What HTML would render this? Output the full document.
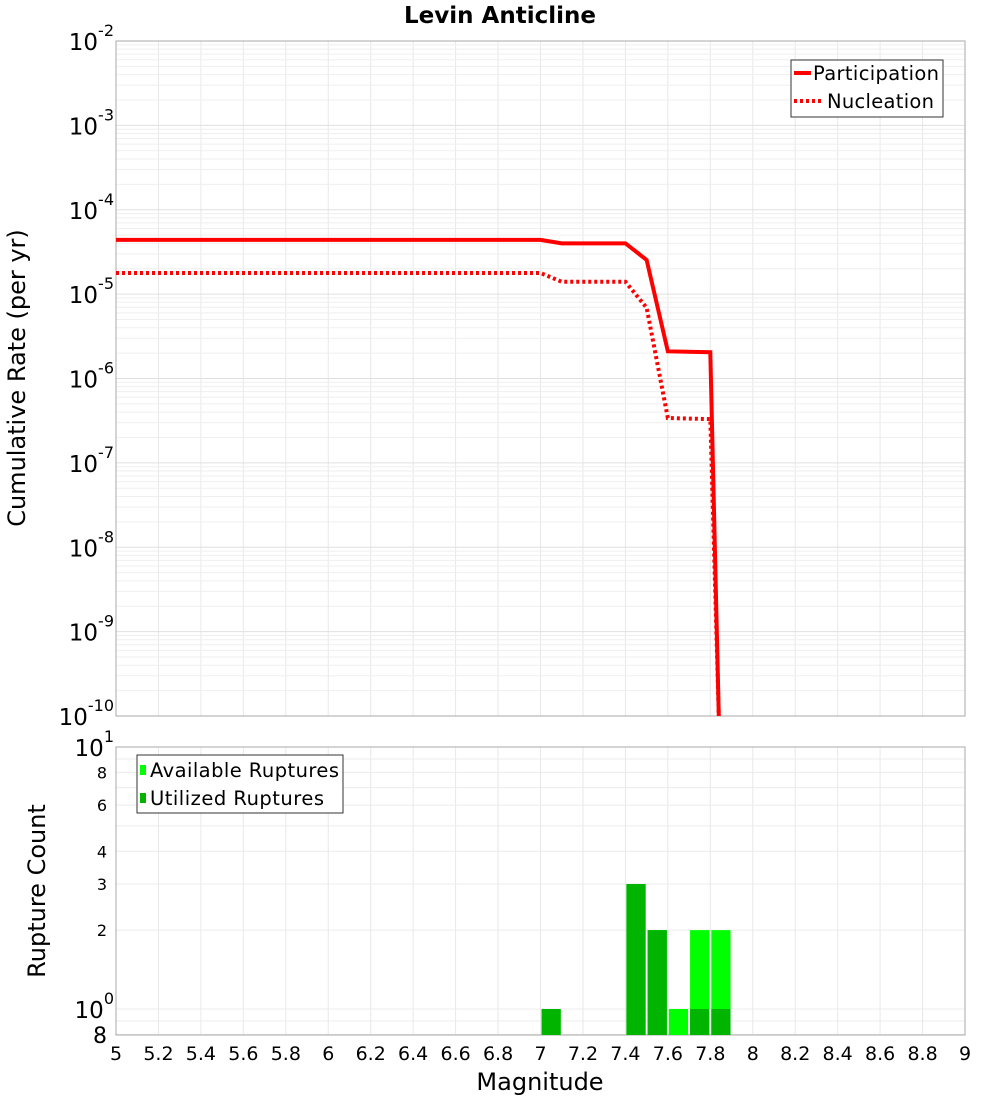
<!DOCTYPE html>
<html><head><meta charset="utf-8"><style>
body{margin:0;background:#fff;font-family:"Liberation Sans","DejaVu Sans",sans-serif}
</style></head><body>
<svg id="c" width="1000" height="1100" xmlns="http://www.w3.org/2000/svg" font-family="DejaVu Sans, Liberation Sans, sans-serif"></svg>
<script>
const mags=[5,7.0,7.1,7.4,7.5,7.6,7.8,7.84];
const partic=[4.39e-5,4.39e-5,4.0e-5,4.0e-5,2.54e-5,2.1e-6,2.05e-6,1e-10];
const nucl=[1.78e-5,1.78e-5,1.4e-5,1.4e-5,6.9e-6,3.4e-7,3.3e-7,1e-10];
const binMags=[7.05,7.45,7.55,7.65,7.75,7.85];
const availCounts=[1,3,2,1,2,2];
const usedCounts=[1,3,2,0,1,1];
const xTicks=["5","5.2","5.4","5.6","5.8","6","6.2","6.4","6.6","6.8","7","7.2","7.4","7.6","7.8","8","8.2","8.4","8.6","8.8","9"];
const topExps=[-2,-3,-4,-5,-6,-7,-8,-9,-10];
const botTicks=["8","6","4","3","2"];

const NS="http://www.w3.org/2000/svg",svg=document.getElementById('c');
function el(t,a,p){const e=document.createElementNS(NS,t);for(const k in a)e.setAttribute(k,a[k]);(p||svg).appendChild(e);return e;}
const L=116,R=965,T1=41,B1=716,T2=747,B2=1035;
const X=m=>L+(m-5)/4*(R-L);
const Y1=v=>T1+(-2-Math.log10(v))*(B1-T1)/8;
const Y2=v=>1009-Math.log10(v)*262;
const g=el('g',{});
for(let i=0;i<=20;i++){const x=X(5+i*0.2);el('line',{x1:x,x2:x,y1:T1,y2:B1,stroke:'#e8e8e8'},g);el('line',{x1:x,x2:x,y1:T2,y2:B2,stroke:'#e8e8e8'},g);}
for(let d=-10;d<-2;d++)for(let k=1;k<10;k++){const y=Y1(k*Math.pow(10,d));el('line',{x1:L,x2:R,y1:y,y2:y,stroke:k==1?'#e0e0e0':'#efefef'},g);}
[0.8,0.9,1,2,3,4,5,6,7,8,9,10].forEach(v=>{const y=Y2(v);if(y<=B2)el('line',{x1:L,x2:R,y1:y,y2:y,stroke:'#ececec'},g);});
let f=el('rect',{x:L,y:T1,width:R-L,height:B1-T1,fill:'none',stroke:'#aaa'});
f=el('rect',{x:L,y:T2,width:R-L,height:B2-T2,fill:'none',stroke:'#aaa'});
let t=el('text',{x:500,y:23,'text-anchor':'middle','font-size':23,'font-weight':'bold'});t.textContent='Levin Anticline';
topExps.forEach(e=>{const y=Y1(Math.pow(10,e));const tx=el('text',{x:114,y:y+9,'text-anchor':'end','font-size':23});tx.textContent='10';const s=el('tspan',{dy:-14,'font-size':16},tx);s.textContent=String(e);});
t=el('text',{x:25,y:378,'text-anchor':'middle','font-size':24,transform:'rotate(-90 25 378)'});t.textContent='Cumulative Rate (per yr)';
const cp=el('clipPath',{id:'cl'});el('rect',{x:L,y:T1,width:R-L,height:B1-T1+2},cp);
function line(vals,name,dash){const pts=mags.map((m,i)=>X(m)+','+Y1(vals[i])).join(' ');const p=el('polyline',{points:pts,fill:'none',stroke:'#ff0000','stroke-width':4,'clip-path':'url(#cl)'});if(dash)p.setAttribute('stroke-dasharray','3,3');}
line(partic,'participation-line',false);line(nucl,'nucleation-line',true);
const lg=el('g',{});
el('rect',{x:791,y:60,width:152,height:57,fill:'#fff',stroke:'#333'},lg);
el('line',{x1:794,x2:811,y1:73,y2:73,stroke:'red','stroke-width':4},lg);
el('line',{x1:794,x2:822,y1:101,y2:101,stroke:'red','stroke-width':4,'stroke-dasharray':'3,3'},lg);
t=el('text',{x:813,y:80,'font-size':19.5,textLength:126},lg);t.textContent='Participation';
t=el('text',{x:827,y:108,'font-size':19.5,textLength:107},lg);t.textContent='Nucleation';
binMags.forEach((m,i)=>{const x0=X(m-0.05)+1,w=X(m+0.05)-X(m-0.05)-2;
 if(availCounts[i]>0){const r=el('rect',{x:x0,y:Y2(availCounts[i]),width:w,height:B2-Y2(availCounts[i]),fill:'#00ff00'});}
 if(usedCounts[i]>0){const r=el('rect',{x:x0,y:Y2(usedCounts[i]),width:w,height:B2-Y2(usedCounts[i]),fill:'#00b400'});}
});
[[10,'1'],[1,'0']].forEach(([v,e])=>{const y=Y2(v);const tx=el('text',{x:114,y:y+9,'text-anchor':'end','font-size':23});tx.textContent='10';const s=el('tspan',{dy:-14,'font-size':16},tx);s.textContent=e;});
[8,6,4,3,2].forEach((v,i)=>{const tx=el('text',{x:107,y:Y2(v)+6,'text-anchor':'end','font-size':16});tx.textContent=botTicks[i];});
t=el('text',{x:107,y:1043,'text-anchor':'end','font-size':22});t.textContent='8';
t=el('text',{x:45,y:891,'text-anchor':'middle','font-size':24,transform:'rotate(-90 45 891)'});t.textContent='Rupture Count';
const lg2=el('g',{});
el('rect',{x:137,y:755,width:206,height:58,fill:'#fff',stroke:'#333'},lg2);
el('rect',{x:140,y:765,width:6,height:10,fill:'#00ff00'},lg2);
el('rect',{x:140,y:793,width:6,height:10,fill:'#00b400'},lg2);
t=el('text',{x:150,y:777,'font-size':19.5,textLength:189},lg2);t.textContent='Available Ruptures';
t=el('text',{x:150,y:805,'font-size':19.5,textLength:174},lg2);t.textContent='Utilized Ruptures';
xTicks.forEach(s=>{const tx=el('text',{x:X(parseFloat(s)),y:1060,'text-anchor':'middle','font-size':19});tx.textContent=s;});
t=el('text',{x:540,y:1090,'text-anchor':'middle','font-size':24});t.textContent='Magnitude';
</script>
</body></html>
